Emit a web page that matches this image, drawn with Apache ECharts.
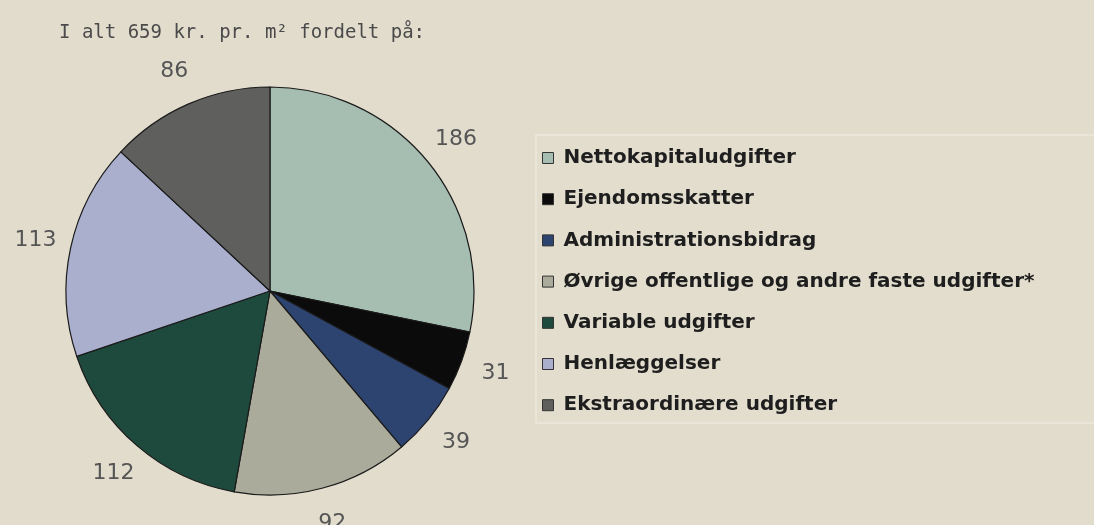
<!DOCTYPE html>
<html><head><meta charset="utf-8">
<script src="https://cdn.jsdelivr.net/npm/echarts@6/dist/echarts.min.js"></script>
<style>html,body{margin:0;padding:0;background:#e2dccd;}#c{width:1094px;height:525px;}</style>
</head><body><div id="c"></div>
<script>
const categories = ["Nettokapitaludgifter","Ejendomsskatter","Administrationsbidrag","Øvrige offentlige og andre faste udgifter*","Variable udgifter","Henlæggelser","Ekstraordinære udgifter"];
const values = [186, 31, 39, 92, 112, 113, 86];
const colors = ["#a6bdb2","#0b0b0b","#2d4470","#aaab9a","#1e4a3d","#a9afcd","#5f5f5e"];
const titleText = "I alt 659 kr. pr. m² fordelt på:";

const chart = echarts.init(document.getElementById('c'));
const data = categories.map((n,i)=>({name:n, value:values[i], itemStyle:{color:colors[i]}}));
chart.setOption({
  backgroundColor:'#e2dccd',
  animation:false,
  title:{text:titleText,left:54,top:19,textStyle:{fontFamily:'DejaVu Sans Mono',fontSize:19,fontWeight:'normal',color:'#4a4a4a'}},
  graphic:[{type:'rect',shape:{x:536,y:135,width:600,height:288},style:{fill:'#e3ddce',stroke:'#ece7db',lineWidth:1.5},z:-1}],
  legend:{orient:'vertical',left:542,top:148,padding:0,itemGap:21.2,itemWidth:11,itemHeight:11,icon:'rect',
    data:categories,
    itemStyle:{borderColor:'#333',borderWidth:1},
    textStyle:{fontFamily:'DejaVu Sans',fontSize:20,fontWeight:'bold',color:'#1e1e1e',lineHeight:20,padding:[0,0,0,5]}},
  series:[
    {type:'pie',center:[270,291],radius:[0,204],startAngle:90,clockwise:true,
     label:{show:false},labelLine:{show:false},
     itemStyle:{borderColor:'#1a1a1a',borderWidth:1.2},
     emphasis:{disabled:true},
     data:data},
    {type:'pie',center:[270,291],radius:[226,248],startAngle:90,clockwise:true,silent:true,
     itemStyle:{color:'rgba(0,0,0,0)'},
     label:{show:true,position:'inside',formatter:'{c}',fontFamily:'DejaVu Sans',fontSize:22,color:'#555'},
     labelLine:{show:false},emphasis:{disabled:true},
     data:categories.map((n,i)=>({name:n,value:values[i],itemStyle:{color:'rgba(0,0,0,0)'}}))}
  ]
});
</script></body></html>
